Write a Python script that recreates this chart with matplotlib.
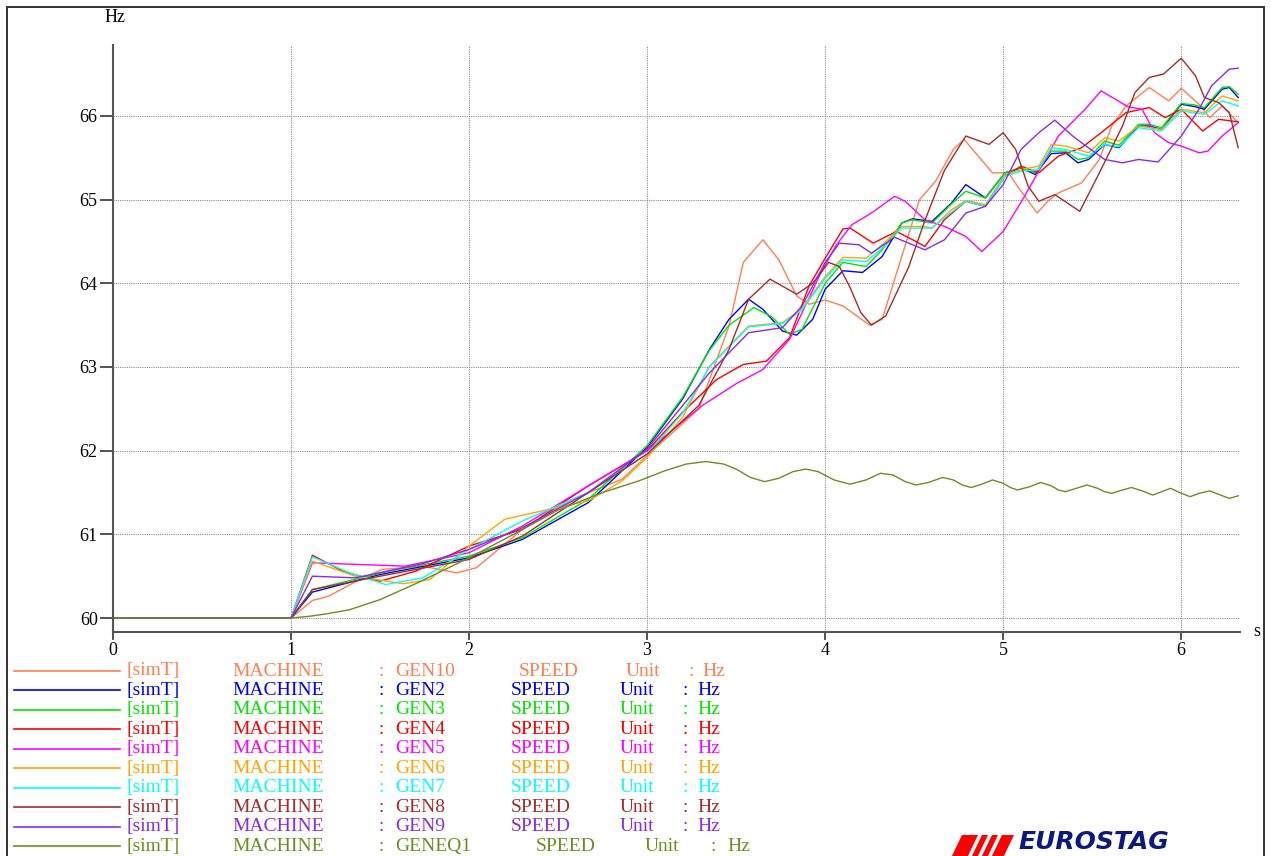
import matplotlib
matplotlib.use("Agg")
import matplotlib.pyplot as plt
from matplotlib.lines import Line2D
from matplotlib.patches import Rectangle, Polygon

# ── Data (time in s, speed in Hz) ───────────────────────────────────────────

t_gen10 = [0, 1.0, 1.12, 1.21, 1.35, 1.51, 1.74, 1.93, 2.04, 2.3, 2.58, 2.86, 3.0,
           3.29, 3.46, 3.54, 3.65, 3.74, 3.84, 3.91, 4.0, 4.1, 4.25, 4.32, 4.43,
           4.53, 4.62, 4.72, 4.78, 4.86, 4.94, 5.03, 5.08, 5.19, 5.26, 5.31, 5.44,
           5.54, 5.61, 5.69, 5.82, 5.93, 6.0, 6.1, 6.16, 6.23, 6.32]
f_gen10 = [60, 60, 60.21, 60.26, 60.42, 60.58, 60.62, 60.54, 60.60, 61.06, 61.42, 61.66, 61.94,
           62.5, 63.49, 64.25, 64.52, 64.28, 63.85, 63.75, 63.8, 63.73, 63.5, 63.57, 64.32,
           65.0, 65.22, 65.6, 65.72, 65.52, 65.32, 65.32, 65.16, 64.84, 65.0, 65.08, 65.2,
           65.48, 65.88, 66.12, 66.34, 66.18, 66.33, 66.14, 65.98, 66.12, 65.92]

t_gen2 = [0, 1.0, 1.12, 1.5, 2.0, 2.3, 2.67, 3.0, 3.2, 3.35, 3.46, 3.57, 3.65, 3.76, 3.84,
          3.93, 4.0, 4.1, 4.21, 4.32, 4.43, 4.49, 4.6, 4.71, 4.79, 4.9, 5.01, 5.1, 5.18,
          5.27, 5.35, 5.42, 5.48, 5.57, 5.65, 5.76, 5.82, 5.89, 6.0, 6.08, 6.13, 6.23,
          6.27, 6.32]
f_gen2 = [60, 60, 60.31, 60.52, 60.72, 60.94, 61.38, 62.04, 62.62, 63.21, 63.57, 63.81, 63.69,
          63.43, 63.38, 63.57, 63.93, 64.15, 64.13, 64.32, 64.72, 64.77, 64.74, 64.96, 65.18,
          65.02, 65.32, 65.38, 65.3, 65.55, 65.56, 65.44, 65.48, 65.66, 65.62, 65.88, 65.88,
          65.84, 66.14, 66.11, 66.08, 66.32, 66.34, 66.22]

t_gen3 = [0, 1.0, 1.12, 1.55, 2.0, 2.3, 2.67, 3.0, 3.2, 3.35, 3.46, 3.6, 3.7, 3.8, 3.87,
          4.0, 4.1, 4.23, 4.32, 4.43, 4.49, 4.6, 4.71, 4.79, 4.9, 5.01, 5.1, 5.18, 5.27,
          5.35, 5.42, 5.48, 5.57, 5.65, 5.76, 5.82, 5.89, 6.0, 6.08, 6.13, 6.23, 6.27, 6.32]
f_gen3 = [60, 60, 60.34, 60.56, 60.74, 60.96, 61.42, 62.06, 62.64, 63.2, 63.5, 63.71, 63.6,
          63.39, 63.45, 64.0, 64.25, 64.2, 64.4, 64.72, 64.76, 64.72, 64.95, 65.1, 65.02,
          65.32, 65.38, 65.32, 65.58, 65.58, 65.48, 65.5, 65.7, 65.65, 65.9, 65.9, 65.86,
          66.15, 66.13, 66.1, 66.34, 66.35, 66.26]

t_gen4 = [0, 1.0, 1.12, 1.3, 1.5, 1.7, 2.0, 2.3, 2.67, 3.0, 3.2, 3.39, 3.54, 3.67, 3.8,
          3.91, 4.0, 4.1, 4.14, 4.27, 4.4, 4.51, 4.56, 4.67, 4.79, 4.9, 5.01, 5.1, 5.2,
          5.31, 5.44, 5.55, 5.69, 5.82, 5.91, 6.0, 6.12, 6.21, 6.32]
f_gen4 = [60, 60, 60.75, 60.55, 60.44, 60.56, 60.86, 61.06, 61.58, 62.0, 62.46, 62.85, 63.03,
          63.07, 63.35, 63.97, 64.3, 64.65, 64.66, 64.48, 64.62, 64.5, 64.44, 64.76, 64.98,
          64.92, 65.28, 65.4, 65.32, 65.52, 65.62, 65.8, 66.04, 66.1, 65.98, 66.08, 65.82,
          65.96, 65.93]

t_gen5 = [0, 1.0, 1.12, 1.64, 2.0, 2.3, 2.67, 3.0, 3.31, 3.5, 3.65, 3.8, 3.97, 4.06, 4.15,
          4.26, 4.39, 4.45, 4.56, 4.67, 4.79, 4.88, 5.0, 5.12, 5.31, 5.46, 5.55, 5.63, 5.7,
          5.78, 5.85, 5.93, 6.0, 6.1, 6.15, 6.23, 6.32]
f_gen5 = [60, 60, 60.66, 60.62, 60.78, 61.1, 61.58, 62.0, 62.54, 62.8, 62.97, 63.33, 64.1,
          64.45, 64.7, 64.84, 65.04, 64.98, 64.76, 64.68, 64.56, 64.38, 64.62, 65.04, 65.76,
          66.08, 66.3, 66.2, 66.11, 66.08, 65.8, 65.68, 65.64, 65.56, 65.58, 65.76, 65.92]

t_gen6 = [0, 1.0, 1.12, 1.36, 1.63, 1.78, 2.0, 2.2, 2.45, 2.67, 2.86, 3.0, 3.2, 3.35, 3.57,
          3.76, 3.87, 4.0, 4.1, 4.23, 4.32, 4.43, 4.55, 4.6, 4.71, 4.79, 4.9, 5.01, 5.1, 5.2,
          5.27, 5.35, 5.48, 5.57, 5.65, 5.76, 5.89, 6.0, 6.13, 6.23, 6.32]
f_gen6 = [60, 60, 60.68, 60.5, 60.41, 60.46, 60.86, 61.18, 61.3, 61.4, 61.64, 61.92, 62.4,
          63.01, 63.49, 63.53, 63.7, 64.08, 64.31, 64.3, 64.46, 64.68, 64.68, 64.66, 64.88,
          64.99, 64.94, 65.3, 65.36, 65.4, 65.66, 65.64, 65.56, 65.74, 65.7, 65.88, 65.84,
          66.08, 66.04, 66.24, 66.18]

t_gen7 = [0, 1.0, 1.12, 1.33, 1.53, 1.74, 2.0, 2.3, 2.67, 3.0, 3.2, 3.35, 3.57, 3.76, 3.87,
          4.0, 4.1, 4.23, 4.32, 4.43, 4.55, 4.6, 4.71, 4.79, 4.9, 5.01, 5.1, 5.2, 5.27, 5.35,
          5.48, 5.57, 5.65, 5.76, 5.89, 6.0, 6.13, 6.23, 6.32]
f_gen7 = [60, 60, 60.73, 60.54, 60.40, 60.48, 60.82, 61.16, 61.5, 61.96, 62.45, 63.0, 63.48,
          63.52, 63.68, 64.06, 64.28, 64.26, 64.42, 64.66, 64.66, 64.66, 64.85, 64.98, 64.92,
          65.28, 65.34, 65.36, 65.62, 65.6, 65.52, 65.66, 65.63, 65.86, 65.82, 66.06, 66.02,
          66.18, 66.12]

t_gen8 = [0, 1.0, 1.12, 1.5, 2.0, 2.3, 2.67, 3.0, 3.29, 3.46, 3.57, 3.69, 3.84, 3.93, 4.02,
          4.08, 4.14, 4.2, 4.26, 4.34, 4.47, 4.56, 4.67, 4.79, 4.92, 5.0, 5.07, 5.14, 5.2,
          5.29, 5.36, 5.43, 5.54, 5.67, 5.74, 5.82, 5.9, 6.0, 6.08, 6.13, 6.21, 6.27, 6.32]
f_gen8 = [60, 60, 60.34, 60.5, 60.70, 60.98, 61.5, 61.96, 62.54, 63.21, 63.81, 64.05, 63.87,
          64.0, 64.25, 64.2, 63.95, 63.65, 63.5, 63.61, 64.2, 64.75, 65.35, 65.76, 65.66,
          65.8, 65.6, 65.16, 64.98, 65.06, 64.96, 64.86, 65.32, 65.88, 66.28, 66.46, 66.5,
          66.69, 66.48, 66.22, 66.16, 66.04, 65.62]

t_gen9 = [0, 1.0, 1.12, 1.36, 1.74, 2.0, 2.3, 2.67, 3.0, 3.35, 3.57, 3.76, 3.87, 4.0, 4.08,
          4.19, 4.26, 4.39, 4.56, 4.67, 4.79, 4.9, 5.0, 5.1, 5.2, 5.29, 5.39, 5.44, 5.57,
          5.67, 5.76, 5.87, 6.0, 6.1, 6.17, 6.27, 6.32]
f_gen9 = [60, 60, 60.50, 60.48, 60.65, 60.82, 61.08, 61.5, 62.02, 62.93, 63.41, 63.47, 63.73,
          64.25, 64.48, 64.46, 64.36, 64.55, 64.4, 64.52, 64.84, 64.92, 65.18, 65.6, 65.8,
          65.95, 65.76, 65.68, 65.48, 65.44, 65.48, 65.45, 65.76, 66.08, 66.36, 66.56, 66.57]

t_geneq1 = [0, 1.0, 1.1, 1.2, 1.33, 1.5, 1.71, 2.0, 2.25, 2.5, 2.75, 2.955, 3.1, 3.22,
            3.33, 3.43, 3.5, 3.58, 3.66, 3.74, 3.82, 3.89, 3.96, 4.05, 4.14, 4.23, 4.31,
            4.38, 4.45, 4.51, 4.58, 4.66, 4.72, 4.77, 4.82, 4.88, 4.94, 5.0, 5.04, 5.08,
            5.15, 5.21, 5.27, 5.31, 5.35, 5.41, 5.47, 5.53, 5.57, 5.61, 5.67, 5.72, 5.78,
            5.84, 5.89, 5.94, 5.99, 6.05, 6.1, 6.16, 6.22, 6.27, 6.32]
f_geneq1 = [60, 60, 60.02, 60.05, 60.10, 60.22, 60.42, 60.72, 61.0, 61.29, 61.5, 61.64,
            61.76, 61.84, 61.87, 61.84, 61.78, 61.68, 61.63, 61.67, 61.75, 61.78, 61.75,
            61.65, 61.60, 61.65, 61.73, 61.71, 61.63, 61.59, 61.62, 61.68, 61.65, 61.59,
            61.56, 61.60, 61.65, 61.61, 61.56, 61.53, 61.57, 61.62, 61.58, 61.53, 61.51,
            61.55, 61.59, 61.55, 61.51, 61.49, 61.53, 61.56, 61.52, 61.47, 61.51, 61.55,
            61.50, 61.45, 61.49, 61.52, 61.47, 61.43, 61.46]

gen_names = ["GEN10", "GEN2", "GEN3", "GEN4", "GEN5", "GEN6", "GEN7", "GEN8", "GEN9", "GENEQ1"]
gen_colors = ["#FF7F50", "#0000FF", "#00E600", "#FF0000", "#FF00FF", "#FFA500",
              "#00FFFF", "#A52A2A", "#8A2BE2", "#6B8E23"]
series = [(t_gen10, f_gen10), (t_gen2, f_gen2), (t_gen3, f_gen3), (t_gen4, f_gen4),
          (t_gen5, f_gen5), (t_gen6, f_gen6), (t_gen7, f_gen7), (t_gen8, f_gen8),
          (t_gen9, f_gen9), (t_geneq1, f_geneq1)]

x_ticks = [0, 1, 2, 3, 4, 5, 6]
y_ticks = [60, 61, 62, 63, 64, 65, 66]

# ── Figure ───────────────────────────────────────────────────────────────────

W, H = 1271, 856
plt.rcParams["font.family"] = ["Liberation Serif", "DejaVu Serif"]

fig = plt.figure(figsize=(W / 100, H / 100), dpi=100)
fig.patch.set_facecolor("white")


def fx(px):
    return px / W


def fy(py):
    return 1 - py / H


# outer frame (bottom edge falls outside the picture)
fig.add_artist(Rectangle((fx(7), fy(880)), fx(1264) - fx(7), fy(7) - fy(880),
                         transform=fig.transFigure, fill=False,
                         edgecolor="#333333", linewidth=1.4))

ax = fig.add_axes([fx(113), fy(632), fx(1240) - fx(113), fy(45) - fy(632)])
ax.set_xlim(0, 6.33)
ax.set_ylim(59.833, 66.848)

for (t, f), c in zip(series, gen_colors):
    ax.plot(t, f, color=c, linewidth=1.0, solid_joinstyle="round")

ax.set_xticks(x_ticks)
ax.set_yticks(y_ticks)
ax.grid(True, linestyle=(0, (1, 1)), color="#8c8c8c", linewidth=0.8)
ax.set_axisbelow(True)
for side in ("top", "right"):
    ax.spines[side].set_visible(False)
for side in ("left", "bottom"):
    ax.spines[side].set_color("#555555")
    ax.spines[side].set_linewidth(1.5)
ax.tick_params(axis="y", direction="out", length=9.5, width=1.3, color="#444444",
               labelsize=13, pad=1.5)
ax.tick_params(axis="x", direction="out", length=6, width=1.3, color="#444444",
               labelsize=13, pad=1)

fig.text(fx(115), fy(18), "Hz", ha="center", va="center", fontsize=13)
fig.text(fx(1257), fy(632), "s", ha="center", va="center", fontsize=13)

# ── Legend block ─────────────────────────────────────────────────────────────

row0, row_step = 671, 19.45
for i, (name, c) in enumerate(zip(gen_names, gen_colors)):
    yy = fy(row0 + i * row_step)
    fig.add_artist(Line2D([fx(14), fx(120)], [yy, yy], color=c, linewidth=1.2,
                          transform=fig.transFigure))
    if name == "GEN10":
        xs = [127, 232, 378, 395, 519, 626, 688, 702]
    elif name == "GENEQ1":
        xs = [127, 232, 378, 395, 536, 645, 710, 727]
    else:
        xs = [127, 232, 378, 395, 511, 620, 683, 697]
    words = ["[simT]", "MACHINE", ":", name, "SPEED", "Unit", ":", "Hz"]
    for w, x in zip(words, xs):
        fig.text(fx(x), yy, w, ha="left", va="center", fontsize=14, color=c)

# ── EUROSTAG logo ────────────────────────────────────────────────────────────

stripes = [(962, 978), (982, 988), (992, 998), (1002, 1014)]
for a, b in stripes:
    fig.add_artist(Polygon([(fx(a), fy(835)), (fx(b), fy(835)),
                            (fx(b - 11), fy(858)), (fx(a - 11), fy(858))],
                           closed=True, transform=fig.transFigure,
                           facecolor="#FF0000", edgecolor="none"))
fig.text(fx(1018), fy(854), "EUROSTAG", ha="left", va="bottom", fontsize=18,
         fontweight="bold", fontstyle="italic", color="#0A1A80",
         family="DejaVu Sans")

fig.savefig("out.png", dpi=100)
